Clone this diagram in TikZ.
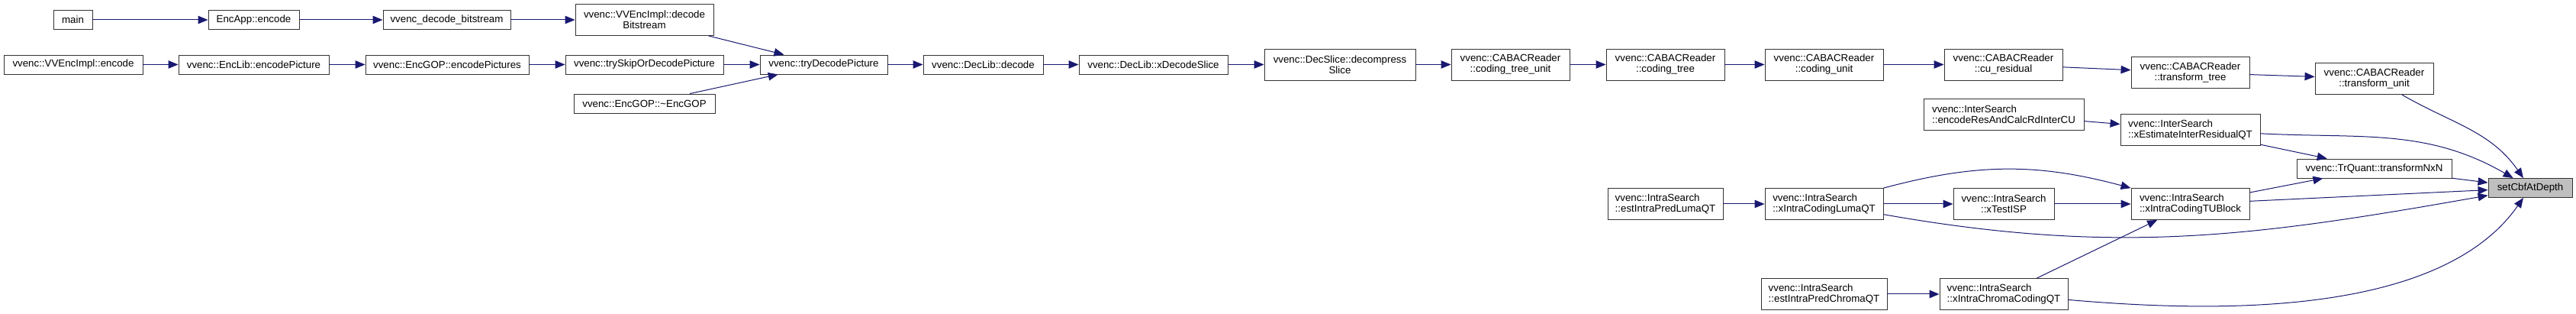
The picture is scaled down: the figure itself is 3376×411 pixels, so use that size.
\documentclass[tikz,border=0pt]{standalone}
\usepackage{fontspec}
\setmainfont{Liberation Sans}
\usetikzlibrary{arrows.meta}
\definecolor{dxEdge}{HTML}{191970}
\definecolor{dxBorder}{HTML}{333333}
\definecolor{dxRoot}{HTML}{BFBFBF}
\tikzset{
  fn/.style    = {draw=dxBorder, fill=white, line width=0.9pt, inner sep=3pt,
                  minimum width=#1, minimum height=25pt, align=center,
                  font=\fontsize{13.3}{14}\selectfont},
  fnl/.style   = {fn=#1, align=left},
  tall/.style  = {minimum height=41pt},
  root/.style  = {fill=dxRoot},
  call/.style  = {-{Triangle[length=13pt, width=10.5pt]}, dxEdge, line width=1pt},
}

\begin{document}
\begin{tikzpicture}[x=1pt, y=1pt]
\useasboundingbox (0,0) rectangle (3376,-411);

% ---- encoder side callers -------------------------------------------------
\node[fn=51pt]  (main)       at (95.5,-26)   {main};
\node[fn=119pt] (encApp)     at (332.5,-26)  {EncApp::encode};
\node[fn=167pt] (decBits)    at (585.5,-26)  {vvenc\_decode\_bitstream};
\node[fn=181pt, tall] (implDecode) at (844.5,-26) {vvenc::VVEncImpl::decode\\Bitstream};
\node[fn=182pt] (implEncode) at (96,-84.5)   {vvenc::VVEncImpl::encode};
\node[fn=197pt] (encPic)     at (332.5,-84.5) {vvenc::EncLib::encodePicture};
\node[fn=214pt] (encPics)    at (586,-84.5)  {vvenc::EncGOP::encodePictures};
\node[fn=207pt] (trySkip)    at (844.5,-84.5) {vvenc::trySkipOrDecodePicture};
\node[fn=185pt] (gopDtor)    at (844.5,-135.5) {vvenc::EncGOP::\textasciitilde EncGOP};

% ---- decoder chain ---------------------------------------------------------
\node[fn=167pt] (tryDec)     at (1079.5,-84.5) {vvenc::tryDecodePicture};
\node[fn=157pt] (decLib)     at (1288.5,-84.5) {vvenc::DecLib::decode};
\node[fn=195pt] (xDecSlice)  at (1511.5,-84.5) {vvenc::DecLib::xDecodeSlice};
\node[fn=198pt, tall] (decompSlice) at (1756,-84.5) {vvenc::DecSlice::decompress\\Slice};
\node[fn=155pt, tall] (ctu)   at (1979.5,-84.5) {vvenc::CABACReader\\::coding\_tree\_unit};
\node[fn=155pt, tall] (ct)    at (2182.5,-84.5) {vvenc::CABACReader\\::coding\_tree};
\node[fn=155pt, tall] (cu)    at (2390.5,-84.5) {vvenc::CABACReader\\::coding\_unit};
\node[fn=155pt, tall] (cuRes) at (2625.5,-84.5) {vvenc::CABACReader\\::cu\_residual};
\node[fn=155pt, tall] (tTree) at (2870.5,-95)   {vvenc::CABACReader\\::transform\_tree};
\node[fn=155pt, tall] (tUnit) at (3111.5,-103)  {vvenc::CABACReader\\::transform\_unit};

% ---- search / transform callers --------------------------------------------
\node[fnl=210pt, tall] (encRes)    at (2626,-150)   {vvenc::InterSearch\\::encodeResAndCalcRdInterCU};
\node[fnl=183pt, tall] (xEstInter) at (2870.5,-170) {vvenc::InterSearch\\::xEstimateInterResidualQT};
\node[fn=203pt]        (tNxN)      at (3111.5,-220.5) {vvenc::TrQuant::transformNxN};
\node[fn=110pt, root]  (cbf)       at (3316,-246)   {setCbfAtDepth};
\node[fnl=151pt, tall] (estLuma)   at (2182.5,-267) {vvenc::IntraSearch\\::estIntraPredLumaQT};
\node[fnl=155pt, tall] (lumaQT)    at (2390.5,-267) {vvenc::IntraSearch\\::xIntraCodingLumaQT};
\node[fn=132pt, tall]  (testISP)   at (2626,-267)   {vvenc::IntraSearch\\::xTestISP};
\node[fnl=155pt, tall] (tuBlock)   at (2870.5,-267) {vvenc::IntraSearch\\::xIntraCodingTUBlock};
\node[fnl=165pt, tall] (estChroma) at (2390.5,-385) {vvenc::IntraSearch\\::estIntraPredChromaQT};
\node[fnl=168pt, tall] (chromaQT)  at (2626,-385)   {vvenc::IntraSearch\\::xIntraChromaCodingQT};

% ---- calls -----------------------------------------------------------------
\draw[call] (main) -- (encApp);
\draw[call] (encApp) -- (decBits);
\draw[call] (decBits) -- (implDecode);
\draw[call] (implDecode) -- (tryDec);
\draw[call] (implEncode) -- (encPic);
\draw[call] (encPic) -- (encPics);
\draw[call] (encPics) -- (trySkip);
\draw[call] (trySkip) -- (tryDec);
\draw[call] (gopDtor) -- (tryDec);
\draw[call] (tryDec) -- (decLib);
\draw[call] (decLib) -- (xDecSlice);
\draw[call] (xDecSlice) -- (decompSlice);
\draw[call] (decompSlice) -- (ctu);
\draw[call] (ctu) -- (ct);
\draw[call] (ct) -- (cu);
\draw[call] (cu) -- (cuRes);
\draw[call] (cuRes) -- (tTree);
\draw[call] (tTree) -- (tUnit);
\draw[call] (tUnit) to[out=-30, in=125] (cbf);

\draw[call] (encRes) -- (xEstInter);
\draw[call] (xEstInter) to[out=-3, in=150] (cbf);
\draw[call] (xEstInter) -- (tNxN);
\draw[call] (tNxN) -- (cbf);

\draw[call] (estLuma) -- (lumaQT);
\draw[call] (lumaQT) -- (testISP);
\draw[call] (testISP) -- (tuBlock);
\draw[call] (lumaQT) to[out=15, in=165] (tuBlock);
\draw[call] (lumaQT) to[out=-10, in=190] (cbf);
\draw[call] (tuBlock) -- (tNxN);
\draw[call] (tuBlock) -- (cbf);

\draw[call] (estChroma) -- (chromaQT);
\draw[call] (chromaQT) -- (tuBlock);
\draw[call] (chromaQT) to[out=-5, in=-125, looseness=0.8] (cbf);

\end{tikzpicture}
\end{document}
